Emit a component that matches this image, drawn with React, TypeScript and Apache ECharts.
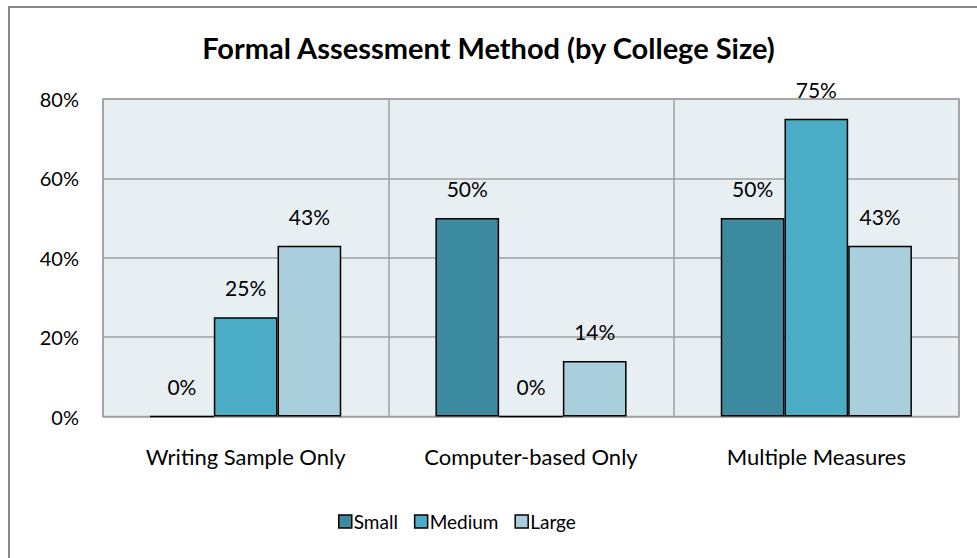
import React, { useEffect, useRef } from "react";
import * as echarts from "echarts";

const categories = ["Writing Sample Only", "Computer-based Only", "Multiple Measures"];
const seriesNames = ["Small", "Medium", "Large"];
const smallValues = [0, 50, 50];
const mediumValues = [25, 0, 75];
const largeValues = [43, 14, 43];
const yTicks = [0, 20, 40, 60, 80];
const colors = ["#3B8A9F", "#4BACC6", "#A9CEDC"];

const FONT = "Lato, 'Open Sans', sans-serif";

export default function App() {
  const ref = useRef<HTMLDivElement>(null);
  useEffect(() => {
    if (!ref.current) return;
    const chart = echarts.init(ref.current, null, { renderer: "svg" });
    const values = [smallValues, mediumValues, largeValues];
    chart.setOption({
      animation: false,
      backgroundColor: "#FFFFFF",
      textStyle: { fontFamily: FONT, color: "#000" },
      title: {
        text: "Formal Assessment Method (by College Size)",
        left: "center",
        top: 28,
        textStyle: { fontFamily: FONT, fontWeight: "bold", fontSize: 29, color: "#000" },
      },
      graphic: [
        {
          type: "rect",
          shape: { x: 9, y: 7, width: 990, height: 580 },
          style: { fill: "none", stroke: "#878787", lineWidth: 2 },
          silent: true,
          z: 100,
        },
      ],
      legend: {
        data: seriesNames,
        top: 512,
        left: 338,
        padding: 0,
        itemWidth: 13,
        itemHeight: 13,
        itemGap: 16,
        icon: "rect",
        textStyle: { fontFamily: FONT, fontSize: 19, color: "#000", padding: [0, 0, 0, -3] },
        itemStyle: { borderColor: "#000", borderWidth: 1.5 },
      },
      grid: {
        left: 103,
        top: 99,
        right: 18,
        bottom: 141.5,
        show: true,
        backgroundColor: "#E8EFF3",
        borderColor: "#A0A0A0",
        borderWidth: 1.5,
      },
      xAxis: {
        type: "category",
        data: categories,
        axisLine: { show: false },
        axisTick: { show: false },
        splitLine: { show: true, lineStyle: { color: "#A0A0A0", width: 1.5 } },
        axisLabel: { fontFamily: FONT, fontSize: 22, color: "#000", margin: 29 },
      },
      yAxis: {
        type: "value",
        min: yTicks[0],
        max: yTicks[yTicks.length - 1],
        interval: 20,
        axisLine: { show: false },
        axisTick: { show: false },
        splitLine: { show: true, lineStyle: { color: "#A0A0A0", width: 1.5 } },
        axisLabel: { fontFamily: FONT, fontSize: 20, color: "#000", margin: 24, formatter: "{value}%" },
      },
      series: seriesNames.map((name, i) => ({
        name,
        type: "bar",
        data: values[i],
        barGap: "0%",
        barCategoryGap: "33%",
        itemStyle: { color: colors[i], borderColor: "#000", borderWidth: 1.5 },
        label: {
          show: true,
          position: "top",
          distance: 19,
          formatter: "{c}%",
          fontFamily: FONT,
          fontSize: 21,
          color: "#000",
        },
      })),
    });
    return () => chart.dispose();
  }, []);
  return (
    <div
      ref={ref}
      style={{ position: "absolute", left: 0, top: 0, width: 977, height: 558 }}
    />
  );
}
